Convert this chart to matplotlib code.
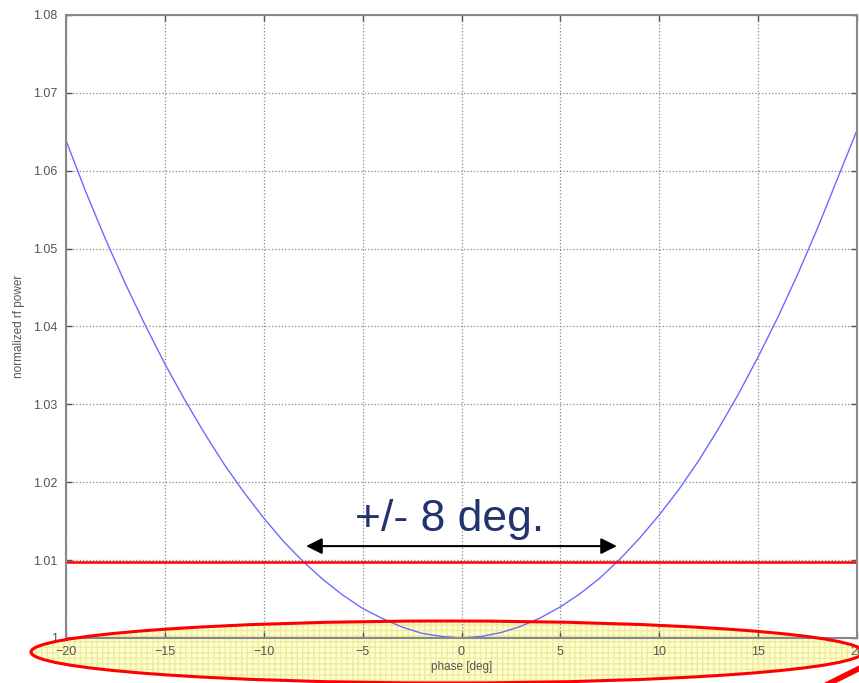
import numpy as np
import matplotlib.pyplot as plt
from matplotlib.patches import Ellipse
from matplotlib.lines import Line2D
from matplotlib.ticker import FormatStrFormatter

plt.rcParams['font.family'] = ['Liberation Sans', 'DejaVu Sans']

# phase scan, 1 deg steps
phase = list(range(-20, 21))
power = [1.0639, 1.0573, 1.0512, 1.0455, 1.0402, 1.0352, 1.0306, 1.0263, 1.0223, 1.0187,
         1.0154, 1.0124, 1.0098, 1.0075, 1.0055, 1.0038, 1.0025, 1.0014, 1.0006, 1.0002,
         1.0000, 1.0002, 1.0007, 1.0015, 1.0026, 1.0040, 1.0057, 1.0077, 1.0101, 1.0128,
         1.0158, 1.0191, 1.0228, 1.0269, 1.0313, 1.0361, 1.0412, 1.0467, 1.0526, 1.0589, 1.0652]
limit = 1.0098
half_width = 8
label = '+/- 8 deg.'

fig = plt.figure(figsize=(8.59, 6.83), dpi=100)
ax = fig.add_axes([66 / 859, 45 / 683, 791 / 859, 623 / 683])
ax.patch.set_alpha(0)

ax.plot(phase, power, color='#6b6bff', linewidth=1.0)
ax.axhline(limit, color='red', linewidth=1.8)

# window annotation
ax.annotate('', xy=(-half_width, limit + 0.002), xytext=(half_width, limit + 0.002),
            arrowprops=dict(arrowstyle='<|-|>', color='black', lw=1.5, mutation_scale=24))
ax.text(-0.6, limit + 0.0054, label, ha='center', va='center', fontsize=32, color='#22336e')

ax.set_xlim(-20, 20)
ax.set_ylim(1.0, 1.08)
ax.set_xticks(np.arange(-20, 21, 5))
ax.set_yticks(np.arange(1.0, 1.0801, 0.01))
ax.yaxis.set_major_formatter(FormatStrFormatter('%g'))
ax.tick_params(direction='in', top=True, right=True, colors='#555555', labelsize=9,
               length=4, width=1.0, pad=6)
ax.grid(True, linestyle=':', color='#888888', linewidth=0.9)
for s in ax.spines.values():
    s.set_color('#888888')
    s.set_linewidth(1.5)
ax.set_xlabel('phase [deg]', fontsize=8.5, color='#555555', labelpad=2)
ax.set_ylabel('normalized rf power', fontsize=8.5, color='#555555', labelpad=6)

# highlight around the phase axis
W, H = 859, 683
hl = Ellipse((447 / W, (H - 652) / H), 832 / W, 62 / H, transform=fig.transFigure,
             facecolor='#ffffd2', edgecolor='#ecec9c', hatch='+++', linewidth=0,
             zorder=-1)
fig.patches.append(hl)
ring = Ellipse((447 / W, (H - 652) / H), 832 / W, 62 / H, transform=fig.transFigure,
               fill=False, edgecolor='red', linewidth=2.2, zorder=6)
fig.patches.append(ring)
fig.lines.append(Line2D([828 / W, 862 / W], [(H - 684) / H, (H - 667) / H],
                        transform=fig.transFigure, color='red', linewidth=4, zorder=6))

fig.savefig('out.png', dpi=100)
